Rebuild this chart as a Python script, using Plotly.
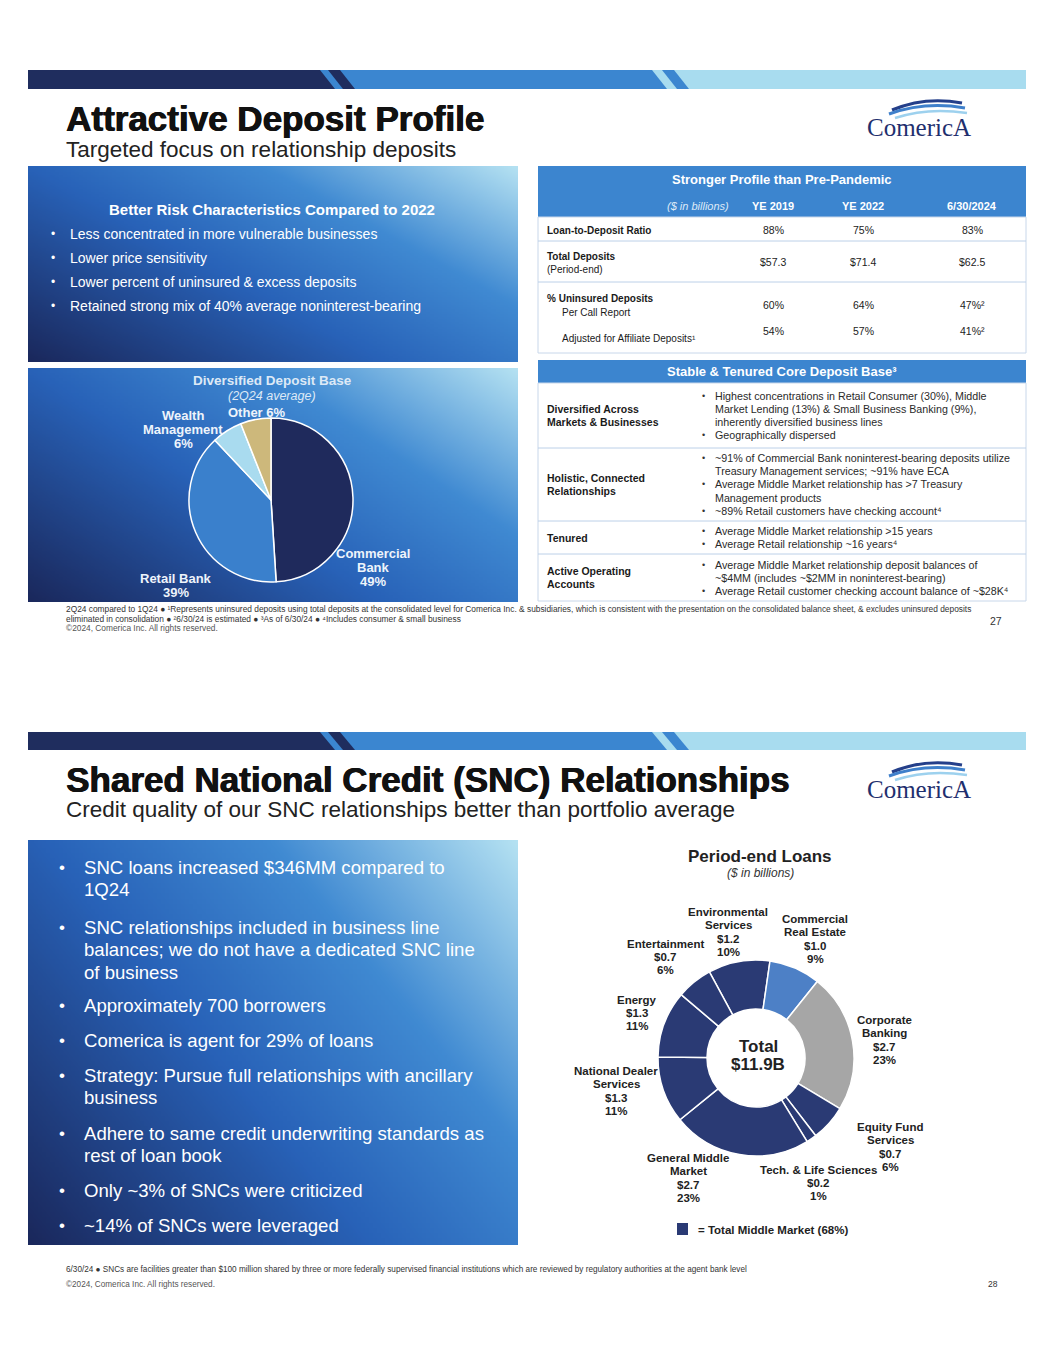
import base64, struct, zlib
import plotly.graph_objects as go

W, H = 1055, 1365
BODY = "Liberation Sans, Arial, sans-serif"
SERIF = "Liberation Serif, Times New Roman, serif"

# ---------------- DATA ----------------
# Slide 1: deposit mix (2Q24 average, %)
deposit_segments = ["Commercial Bank", "Retail Bank", "Wealth Management", "Other"]
deposit_share = [49, 39, 6, 6]
deposit_label_lines = [["Commercial", "Bank", "49%"], ["Retail Bank", "39%"],
                       ["Wealth", "Management", "6%"], ["Other 6%"]]

risk_title = "Better Risk Characteristics Compared to 2022"
risk_bullets = ["Less concentrated in more vulnerable businesses",
                "Lower price sensitivity",
                "Lower percent of uninsured & excess deposits",
                "Retained strong mix of 40% average noninterest-bearing"]

# Slide 1: profile table
profile_cols = ["YE 2019", "YE 2022", "6/30/2024"]
ltd_ratio = ["88%", "75%", "83%"]
total_deposits = ["$57.3", "$71.4", "$62.5"]
uninsured_call = ["60%", "64%", "47%²"]
uninsured_adj = ["54%", "57%", "41%²"]

# Slide 1: core deposit base table
core_labels = [["Diversified Across", "Markets & Businesses"],
               ["Holistic, Connected", "Relationships"],
               ["Tenured"],
               ["Active Operating", "Accounts"]]
core_lines = [
    [(True, "Highest concentrations in Retail Consumer (30%), Middle"),
     (False, "Market Lending (13%) & Small Business Banking (9%),"),
     (False, "inherently diversified business lines"),
     (True, "Geographically dispersed")],
    [(True, "~91% of Commercial Bank noninterest-bearing deposits utilize"),
     (False, "Treasury Management services; ~91% have ECA"),
     (True, "Average Middle Market relationship has >7 Treasury"),
     (False, "Management products"),
     (True, "~89% Retail customers have checking account⁴")],
    [(True, "Average Middle Market relationship >15 years"),
     (True, "Average Retail relationship ~16 years⁴")],
    [(True, "Average Middle Market relationship deposit balances of"),
     (False, "~$4MM (includes ~$2MM in noninterest-bearing)"),
     (True, "Average Retail customer checking account balance of ~$28K⁴")],
]

# Slide 2: SNC period-end loans ($B)
loan_segments = ["Environmental Services", "Commercial Real Estate", "Corporate Banking",
                 "Equity Fund Services", "Tech. & Life Sciences", "General Middle Market",
                 "National Dealer Services", "Energy", "Entertainment"]
loan_values = [1.2, 1.0, 2.7, 0.7, 0.2, 2.7, 1.3, 1.3, 0.7]
loan_pct = [10, 9, 23, 6, 1, 23, 11, 11, 6]
loan_name_lines = [["Environmental", "Services"], ["Commercial", "Real Estate"],
                   ["Corporate", "Banking"], ["Equity Fund", "Services"],
                   ["Tech. & Life Sciences"], ["General Middle", "Market"],
                   ["National Dealer", "Services"], ["Energy"], ["Entertainment"]]
loan_middle_market = [True, False, False, True, True, True, True, True, True]
loan_total = "$11.9B"
middle_market_share = 68

snc_bullets = [["SNC loans increased $346MM compared to", "1Q24"],
               ["SNC relationships included in business line",
                "balances; we do not have a dedicated SNC line", "of business"],
               ["Approximately 700 borrowers"],
               ["Comerica is agent for 29% of loans"],
               ["Strategy: Pursue full relationships with ancillary", "business"],
               ["Adhere to same credit underwriting standards as", "rest of loan book"],
               ["Only ~3% of SNCs were criticized"],
               ["~14% of SNCs were leveraged"]]

# ---------------- STYLE ----------------
NAVY = "#1f2d5e"
MID = "#3b86d0"
LIGHT = "#a8dcef"
HDR = "#3c85cf"
SLICE_NAVY = "#2a3a74"
SEP = "#bcd0e8"
HEAVY = "0.7px 0px 0px #111111, -0.3px 0px 0px #111111"

shapes, annotations, images = [], [], []


def txt(x, y, s, size, color="#1a1a1a", bold=False, italic=False, xanchor="left", family=BODY,
        shadow=None):
    if bold:
        s = "<b>" + s + "</b>"
    if italic:
        s = "<i>" + s + "</i>"
    font = dict(size=size, color=color, family=family)
    if shadow:
        font["shadow"] = shadow
    annotations.append(dict(x=x, y=y, xref="x", yref="y", text=s, showarrow=False,
                            xanchor=xanchor, yanchor="middle", font=font))


def lines(x, yc, arr, size, color, spacing, bold=False, xanchor="center"):
    n = len(arr)
    y0 = yc - spacing * (n - 1) / 2
    for i, s in enumerate(arr):
        txt(x, y0 + i * spacing, s, size, color, bold=bold, xanchor=xanchor)


def rect(x0, y0, x1, y1, fill, line=None, lw=0, layer="above"):
    shapes.append(dict(type="rect", xref="x", yref="y", x0=x0, y0=y0, x1=x1, y1=y1,
                       fillcolor=fill, line=dict(color=line or fill, width=lw), layer=layer))


def hline(x0, x1, y, color=SEP, w=1):
    shapes.append(dict(type="line", xref="x", yref="y", x0=x0, x1=x1, y0=y, y1=y,
                       line=dict(color=color, width=w)))


def poly(pts, fill):
    p = "M " + " L ".join(f"{a},{b}" for a, b in pts) + " Z"
    shapes.append(dict(type="path", xref="x", yref="y", path=p, fillcolor=fill,
                       line=dict(width=0), layer="above"))


def curve(p, color, w):
    shapes.append(dict(type="path", xref="x", yref="y", path=p,
                       line=dict(color=color, width=w)))


# ---- gradient png ----
def _mix(c1, c2, t):
    return tuple(int(round(a + (b - a) * t)) for a, b in zip(c1, c2))


STOPS = [(0.0, (26, 40, 92)), (0.42, (40, 98, 184)), (0.7, (64, 138, 210)), (1.0, (180, 225, 242))]


def grad_color(t):
    t = max(0.0, min(1.0, t))
    for (t0, c0), (t1, c1) in zip(STOPS[:-1], STOPS[1:]):
        if t <= t1:
            return _mix(c0, c1, (t - t0) / (t1 - t0))
    return STOPS[-1][1]


def gradient_uri(w, h, ax=0.58, ay=0.42):
    rows = []
    for j in range(h):
        v = j / (h - 1)
        row = bytearray(b"\x00")
        for i in range(w):
            u = i / (w - 1)
            row.extend(grad_color(ax * u + ay * (1 - v)))
        rows.append(bytes(row))
    raw = b"".join(rows)

    def chunk(t, d):
        return struct.pack(">I", len(d)) + t + d + struct.pack(">I", zlib.crc32(t + d) & 0xffffffff)

    png = (b"\x89PNG\r\n\x1a\n" + chunk(b"IHDR", struct.pack(">IIBBBBB", w, h, 8, 2, 0, 0, 0))
           + chunk(b"IDAT", zlib.compress(raw, 9)) + chunk(b"IEND", b""))
    return "data:image/png;base64," + base64.b64encode(png).decode()


def panel(x0, y0, x1, y1, ax=0.58, ay=0.42):
    images.append(dict(source=gradient_uri(120, 80, ax, ay), xref="x", yref="y", x=x0, y=y0,
                       sizex=x1 - x0, sizey=y1 - y0, xanchor="left", yanchor="top",
                       sizing="stretch", layer="below"))


def banner(y0, y1):
    x0, x1, s = 28, 1026, 15
    b1, b2 = 320, 652
    rect(x0, y0, x1, y1, LIGHT)
    poly([(x0, y0), (b2, y0), (b2 + s, y1), (x0, y1)], MID)
    poly([(b2 + 10, y0), (b2 + 22, y0), (b2 + 22 + s, y1), (b2 + 10 + s, y1)], MID)
    poly([(x0, y0), (b1, y0), (b1 + s, y1), (x0, y1)], NAVY)
    poly([(b1 + 8, y0), (b1 + 20, y0), (b1 + 20 + s, y1), (b1 + 8 + s, y1)], NAVY)


def logo(cy):
    curve(f"M 892,{cy-14} Q 925,{cy-28} 962,{cy-21}", "#243f8a", 3)
    curve(f"M 889,{cy-10} Q 925,{cy-23} 965,{cy-16}", "#3f80cb", 3)
    curve(f"M 895,{cy-6} Q 928,{cy-17} 967,{cy-11}", "#9dd1ee", 2.5)
    txt(919, cy + 3, "ComericA", 25, "#1f2f6e", family=SERIF, xanchor="center")


fig = go.Figure()
fig.add_trace(go.Scatter(x=[], y=[], showlegend=False))

# ================= SLIDE 1 =================
banner(70, 89)
txt(64, 118, "Attractive Deposit Profile", 35, "#111111", bold=True, shadow=HEAVY)
txt(64, 149, "Targeted focus on relationship deposits", 22.5, "#222222")
logo(124)

# left top panel
panel(28, 166, 518, 362)
txt(272, 209, risk_title, 15, "white", bold=True, xanchor="center")
for i, b in enumerate(risk_bullets):
    y = 234 + i * 24
    txt(49, y, "•", 12, "white")
    txt(68, y, b, 14, "white")

# left bottom panel with pie
panel(28, 368, 518, 602)
txt(272, 380, "Diversified Deposit Base", 13.5, "#dde9f6", bold=True, xanchor="center")
txt(272, 396, "(2Q24 average)", 12.5, "#dde9f6", italic=True, xanchor="center")
pcx, pcy, pr = 271, 500, 82
fig.add_trace(go.Pie(
    labels=deposit_segments, values=deposit_share, sort=False, direction="clockwise",
    rotation=0, textinfo="none", hoverinfo="label+percent",
    marker=dict(colors=["#1f2a5c", "#3a80cc", "#a9dbef", "#cdb87b"],
                line=dict(color="white", width=1.5)),
    domain=dict(x=[(pcx - pr) / W, (pcx + pr) / W], y=[1 - (pcy + pr) / H, 1 - (pcy - pr) / H]),
    showlegend=False))
dep_label_pos = [(373, 567), (176, 585), (183, 429), (257, 412)]
for (x, y), arr in zip(dep_label_pos, deposit_label_lines):
    lines(x, y, arr, 13, "#eef4fb", 14, bold=True)

# right table 1
TX0, TX1 = 538, 1026
rect(TX0, 166, TX1, 217, HDR)
rect(TX0, 217, TX1, 353, "white", line="#c8d7ea", lw=1)
txt(782, 179, "Stronger Profile than Pre-Pandemic", 13, "white", bold=True, xanchor="center")
txt(731, 206, "($ in billions)", 11, "#dfeaf7", italic=True, xanchor="right")
col_x = [773, 863, 972]
for cx, c in zip(col_x, profile_cols):
    txt(cx, 206, c, 11, "white", bold=True, xanchor="center")
hline(TX0, TX1, 241)
hline(TX0, TX1, 282)
txt(545, 230, "Loan-to-Deposit Ratio", 10, bold=True)
txt(545, 256, "Total Deposits", 10, bold=True)
txt(545, 269, "(Period-end)", 10)
txt(545, 298, "% Uninsured Deposits", 10, bold=True)
txt(560, 312, "Per Call Report", 10)
txt(560, 338, "Adjusted for Affiliate Deposits¹", 10)
for row_y, vals in zip([230, 262, 305, 331], [ltd_ratio, total_deposits, uninsured_call, uninsured_adj]):
    for cx, v in zip(col_x, vals):
        txt(cx, row_y, v, 10.5, "#222222", xanchor="center")

# right table 2
rect(TX0, 360, TX1, 383, HDR)
rect(TX0, 383, TX1, 601, "white", line="#c8d7ea", lw=1)
txt(782, 371, "Stable & Tenured Core Deposit Base³", 13, "white", bold=True, xanchor="center")
row_bounds = [383, 448, 521, 554, 601]
for yb in row_bounds[1:-1]:
    hline(TX0, TX1, yb)
row_line_y = [[396, 409, 422, 435], [458, 471, 484, 498, 511], [531, 544], [565, 578, 591]]
for r in range(4):
    yc = (row_bounds[r] + row_bounds[r + 1]) / 2
    lines(545, yc, core_labels[r], 10.5, "#1a1a1a", 13, bold=True, xanchor="left")
    for (is_b, s), y in zip(core_lines[r], row_line_y[r]):
        if is_b:
            txt(700, y, "•", 9, "#333333")
        txt(713, y, s, 10.7, "#2a2a2a")

# footnotes slide 1
fn1 = ("2Q24 compared to 1Q24 ● ¹Represents uninsured deposits using total deposits at the consolidated level "
       "for Comerica Inc. & subsidiaries, which is consistent with the presentation on the consolidated balance "
       "sheet, & excludes uninsured deposits")
fn2 = "eliminated in consolidation ● ²6/30/24 is estimated ● ³As of 6/30/24 ● ⁴Includes consumer & small business"
txt(64, 609, fn1, 8.35, "#333333")
txt(64, 619, fn2, 8.35, "#333333")
txt(64, 628, "©2024, Comerica Inc. All rights reserved.", 8.35, "#555555")
txt(996, 621, "27", 10.5, "#333333", xanchor="center")

# ================= SLIDE 2 =================
banner(732, 750)
txt(64, 779, "Shared National Credit (SNC) Relationships", 35, "#111111", bold=True, shadow=HEAVY)
txt(64, 809, "Credit quality of our SNC relationships better than portfolio average", 22.5, "#222222")
logo(786)

panel(28, 840, 518, 1245, ax=0.6, ay=0.4)
bullet_start_y = [867, 927, 1005, 1040, 1075, 1133, 1190, 1225]
for y0, arr in zip(bullet_start_y, snc_bullets):
    txt(57, y0, "•", 17, "white")
    for k, s in enumerate(arr):
        txt(82, y0 + k * 22.5, s, 18.6, "white")

# donut
txt(760, 856, "Period-end Loans", 17, "#222222", bold=True, xanchor="center")
txt(760, 873, "($ in billions)", 12, "#333333", italic=True, xanchor="center")
dcx, dcy, dr = 756, 1058, 98
slice_colors = [SLICE_NAVY if mm else None for mm in loan_middle_market]
slice_colors[1] = "#4d80c6"
slice_colors[2] = "#a6a6a6"
fig.add_trace(go.Pie(
    labels=loan_segments, values=loan_values, sort=False, direction="clockwise",
    rotation=-28.4, hole=0.5, textinfo="none", hoverinfo="label+value",
    marker=dict(colors=slice_colors, line=dict(color="white", width=1.5)),
    domain=dict(x=[(dcx - dr) / W, (dcx + dr) / W], y=[1 - (dcy + dr) / H, 1 - (dcy - dr) / H]),
    showlegend=False))
txt(758, 1046, "Total", 17, "#222222", bold=True, xanchor="center")
txt(758, 1064, loan_total, 17, "#222222", bold=True, xanchor="center")

loan_label_pos = [(728, 932), (815, 939), (884, 1040), (890, 1147), (818, 1183),
                  (688, 1178), (616, 1091), (637, 1013), (665, 957)]
for (x, y), name, v, p in zip(loan_label_pos, loan_name_lines, loan_values, loan_pct):
    arr = name + [f"${v:.1f}", f"{p}%"]
    lines(x, y, arr, 11.5, "#222222", 13.3, bold=True)

rect(677, 1223, 688, 1235, SLICE_NAVY)
txt(696, 1230, f"= Total Middle Market ({middle_market_share}%)", 11.5, "#222222", bold=True)

fn3 = ("6/30/24 ● SNCs are facilities greater than $100 million shared by three or more federally supervised "
       "financial institutions which are reviewed by regulatory authorities at the agent bank level")
txt(64, 1269, fn3, 8.2, "#333333")
txt(64, 1284, "©2024, Comerica Inc. All rights reserved.", 8.2, "#555555")
txt(993, 1284, "28", 8.5, "#333333", xanchor="center")

fig.update_layout(
    width=W, height=H, margin=dict(l=0, r=0, t=0, b=0),
    paper_bgcolor="white", plot_bgcolor="rgba(0,0,0,0)",
    xaxis=dict(range=[0, W], visible=False, fixedrange=True, domain=[0, 1]),
    yaxis=dict(range=[H, 0], visible=False, fixedrange=True, domain=[0, 1]),
    shapes=shapes, annotations=annotations, images=images, showlegend=False,
)

fig.write_html("out.html", config={"displayModeBar": False},
               post_script="document.body.style.margin='0px';")
